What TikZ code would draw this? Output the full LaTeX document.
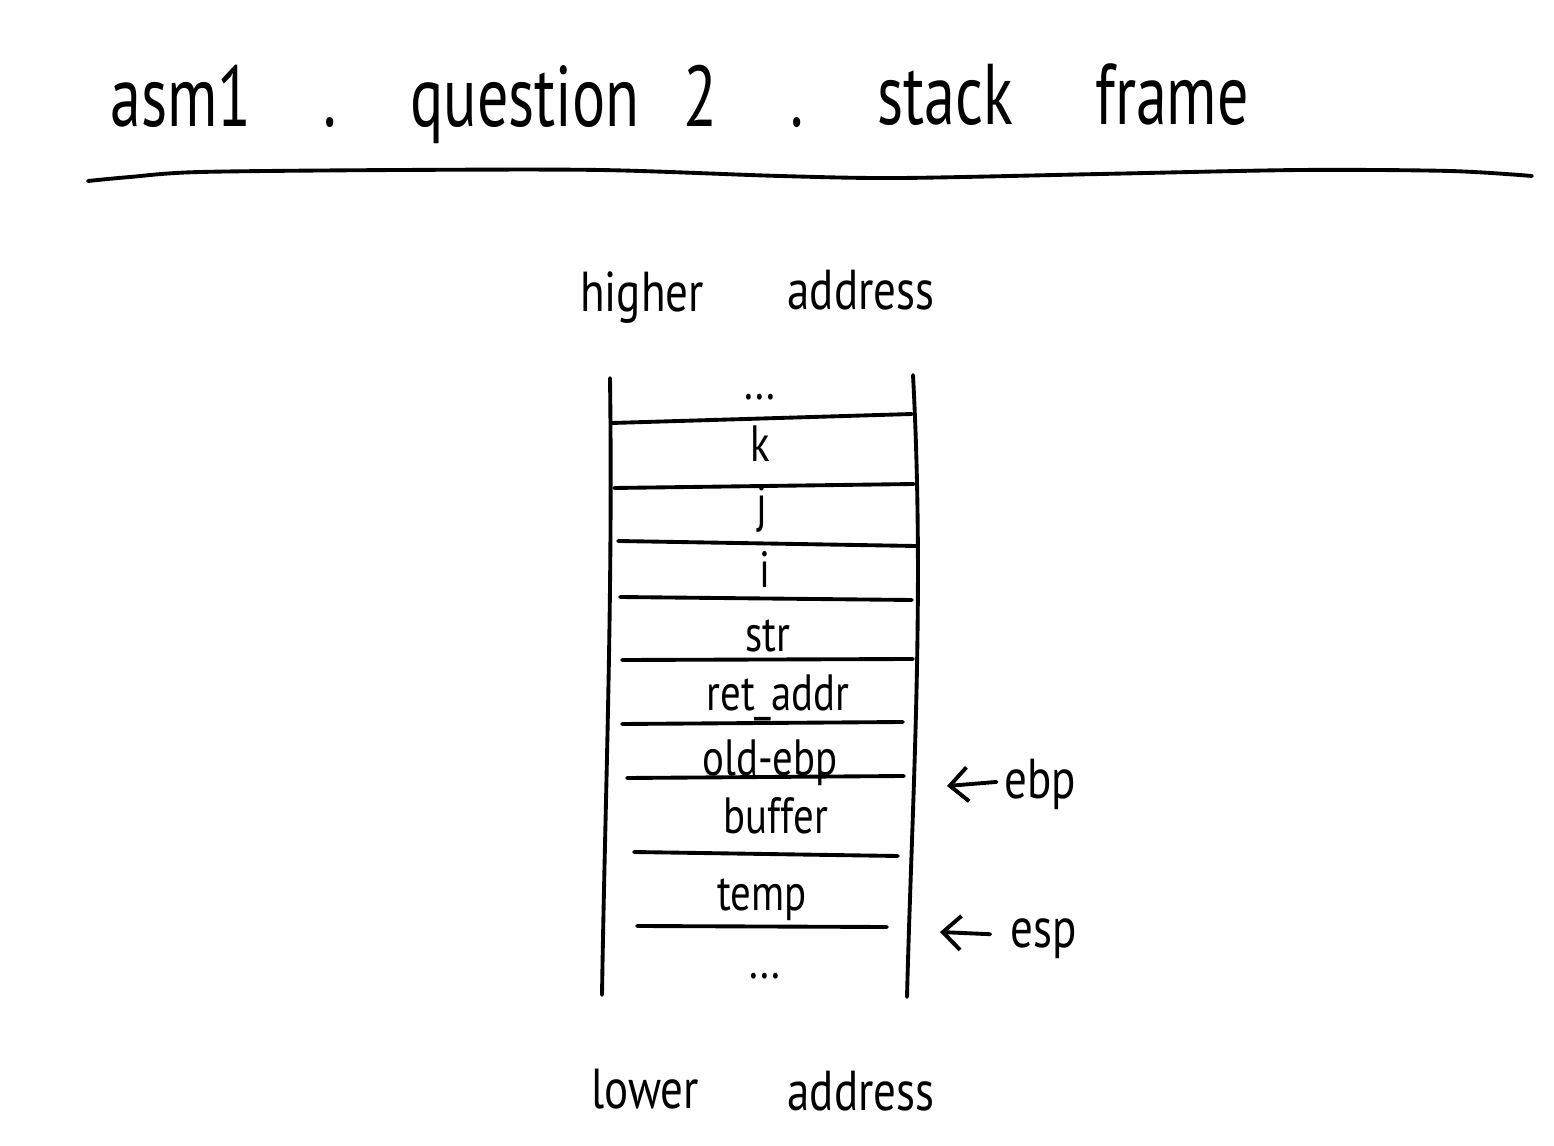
\documentclass[tikz,border=0pt]{standalone}
\usepackage{fontspec}
\setmainfont{PT Sans}
\newfontfamily\handfont{PT Sans}[FakeStretch=0.72]
\newfontfamily\slotfont{PT Sans}[FakeStretch=0.8]
\usetikzlibrary{arrows.meta}
\tikzset{
    hand/.style={line width=1.1pt, line cap=round, line join=round},
    ptr/.style={hand, -{Straight Barb[length=1.8mm,width=3.4mm]}},
    word/.style={anchor=base, inner sep=0pt, font=\fontsize{24.5}{28}\selectfont\handfont},
    slot/.style={anchor=base, inner sep=0pt, font=\fontsize{14.5}{18}\selectfont\slotfont},
    side/.style={anchor=base, inner sep=0pt, font=\fontsize{16}{20}\selectfont\slotfont}}

\begin{document}
\begin{tikzpicture}[x=0.01cm,y=-0.01cm]
\useasboundingbox (0,0) rectangle (1554,1146);
% title
\node[word] (asm) at (181,127){asm1};
\node[word] (dotA) at (330,127){.};
\node[word] (question) at (525,127){question};
\node[word] (two) at (700,127){2};
\node[word] (dotB) at (797,127){.};
\node[word] (stack) at (945,125){stack};
\node[word] (frame) at (1172,125){frame};
\draw[hand] plot[smooth] coordinates {(88,181) (130,177) (200,172) (400,170) (600,170)
  (780,176) (900,178) (1100,174) (1300,170) (1450,171) (1532,176)};
% address labels
\node[side] (higher) at (642,312){higher};
\node[side] (haddr) at (861,310){address};
\node[side] (lower) at (645,1108){lower};
\node[side] (laddr) at (861,1110){address};
% stack frame
\draw[hand] (610,378) .. controls (613,600) and (605,800) .. (602,995);
\draw[hand] (913,375) .. controls (925,600) and (912,800) .. (907,997);
\foreach \lx/\ly/\rx/\ry in {612/423/912/414, 614/488/914/484, 618/541/916/546,
    620/597/912/600, 622/660/913/659, 622/724/903/722, 627/778/904/776,
    634/852/898/856, 637/926/887/927}
  \draw[hand] (\lx,\ly) -- (\rx,\ry);
\node[slot] (dotsTop) at (760,400){...};
\node[slot] (kSlot) at (760,462){k};
\node[slot] (jSlot) at (762,522){j};
\node[slot] (iSlot) at (765,588){i};
\node[slot] (strSlot) at (768,652){str};
\node[slot] (retSlot) at (778,710){ret\_addr};
\node[slot] (oldSlot) at (770,775){old-ebp};
\node[slot] (bufSlot) at (776,833){buffer};
\node[slot] (tempSlot) at (762,910){temp};
\node[slot] (dotsBot) at (765,978){...};
% registers
\node[side] (ebp) at (1040,798){ebp};
\coordinate (ebpTip) at (947,786);
\draw[ptr] (ebp.west) ++(-7,-2) -- (ebpTip);
\node[side] (esp) at (1044,947){esp};
\coordinate (espTip) at (940,932);
\draw[ptr] (esp.west) ++(-20,-4) -- (espTip);
\end{tikzpicture}
\end{document}
